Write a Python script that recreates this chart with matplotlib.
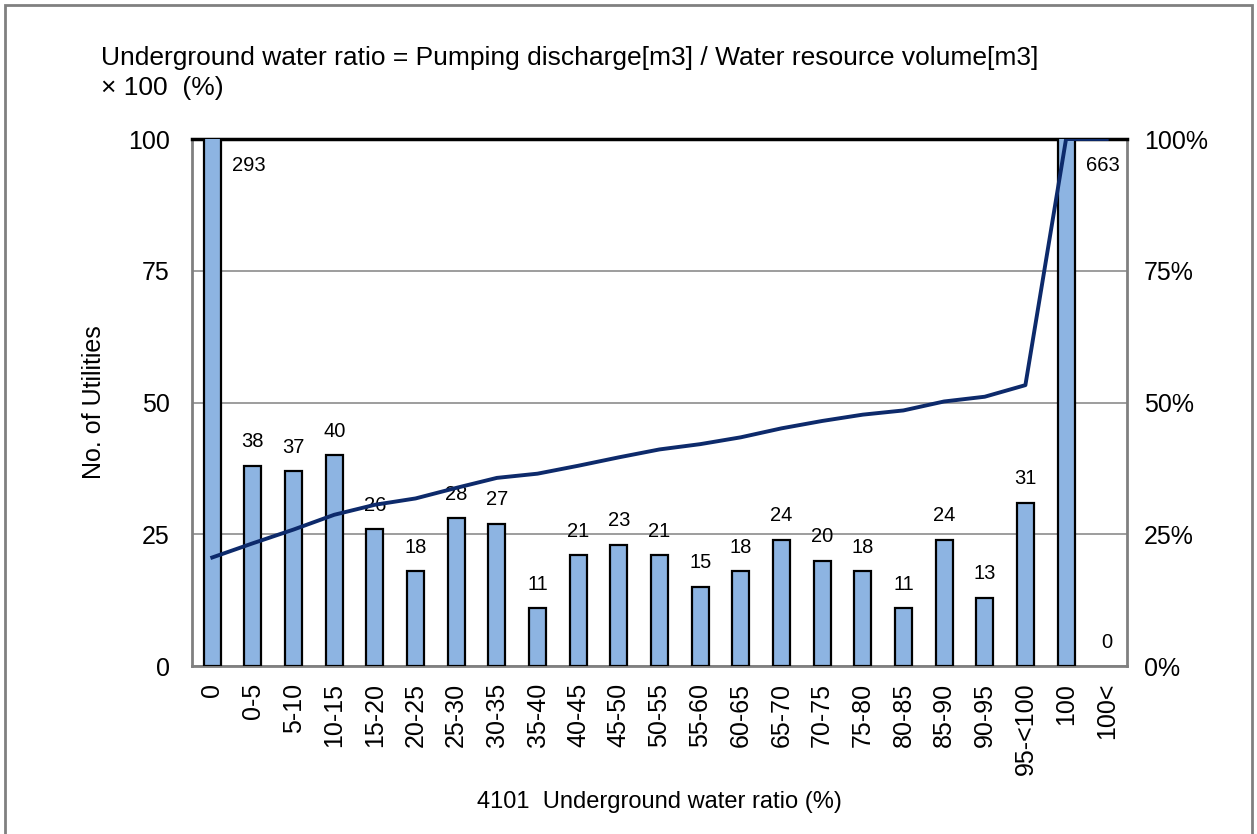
import numpy as np
import matplotlib
matplotlib.use("Agg")
import matplotlib.pyplot as plt
from matplotlib.patches import Rectangle

# data
categories = ["0", "0-5", "5-10", "10-15", "15-20", "20-25", "25-30", "30-35",
              "35-40", "40-45", "45-50", "50-55", "55-60", "60-65", "65-70",
              "70-75", "75-80", "80-85", "85-90", "90-95", "95-<100", "100", "100<"]
counts = [293, 38, 37, 40, 26, 18, 28, 27, 11, 21, 23, 21, 15, 18, 24,
          20, 18, 11, 24, 13, 31, 663, 0]
cumulative_pct = [20.6, 23.3, 25.9, 28.7, 30.6, 31.8, 33.8, 35.7, 36.5, 38.0,
                  39.6, 41.1, 42.1, 43.4, 45.1, 46.5, 47.7, 48.5, 50.2, 51.1,
                  53.3, 100.0, 100.0]

plt.rcParams['font.family'] = ['Liberation Sans', 'DejaVu Sans']

fig = plt.figure(figsize=(12.57, 8.34), dpi=100)
ax = fig.add_axes([0.1527, 0.2014, 0.7439, 0.6319])

x = np.arange(len(categories))
ax.bar(x, counts, width=0.42, color='#8DB4E2', edgecolor='black',
       linewidth=[1.6 if v > 0 else 0 for v in counts], zorder=3)
ax.set_xlim(-0.5, len(categories) - 0.5)
ax.set_ylim(0, 100)
ax.set_yticks([0, 25, 50, 75, 100])
ax.tick_params(axis='y', labelsize=18, length=0, pad=16)
ax.set_xticks(x)
ax.set_xticklabels(categories, rotation=90, fontsize=18)
ax.tick_params(axis='x', length=0, pad=12)
ax.grid(axis='y', color='#8c8c8c', linewidth=1.2, zorder=0)
for s in ['left', 'right', 'bottom']:
    ax.spines[s].set_color('#808080')
    ax.spines[s].set_linewidth(2)
ax.spines['top'].set_color('black')
ax.spines['top'].set_linewidth(2.5)

# value labels
for xi, v in zip(x, counts):
    if v > 100:
        ax.text(xi + 0.9, 95, str(v), ha='center', va='center', fontsize=14.5, zorder=5)
    else:
        ax.annotate(str(v), (xi, v), xytext=(0, 24), textcoords='offset pixels',
                    ha='center', va='center', fontsize=14.5, zorder=5)

ax.set_ylabel("No. of Utilities", fontsize=18, labelpad=16)
ax.set_xlabel("4101  Underground water ratio (%)", fontsize=17, labelpad=11)

ax2 = ax.twinx()
ax2.plot(x, cumulative_pct, color='#0D2A6B', linewidth=2.8, zorder=4)
ax2.set_ylim(0, 100)
ax2.set_yticks([0, 25, 50, 75, 100])
ax2.set_yticklabels(["0%", "25%", "50%", "75%", "100%"])
ax2.tick_params(axis='y', labelsize=18, length=0, pad=12)
for s in ax2.spines.values():
    s.set_visible(False)

fig.text(0.0804, 0.930, "Underground water ratio = Pumping discharge[m3] / Water resource volume[m3]",
         fontsize=19, va='center')
fig.text(0.0804, 0.894, "\u00d7 100  (%)", fontsize=19, va='center')

fig.patches.append(Rectangle((0.004, -0.01), 0.992, 1.004, transform=fig.transFigure,
                             fill=False, edgecolor='#808080', linewidth=2))

fig.savefig("out.png", dpi=100)
